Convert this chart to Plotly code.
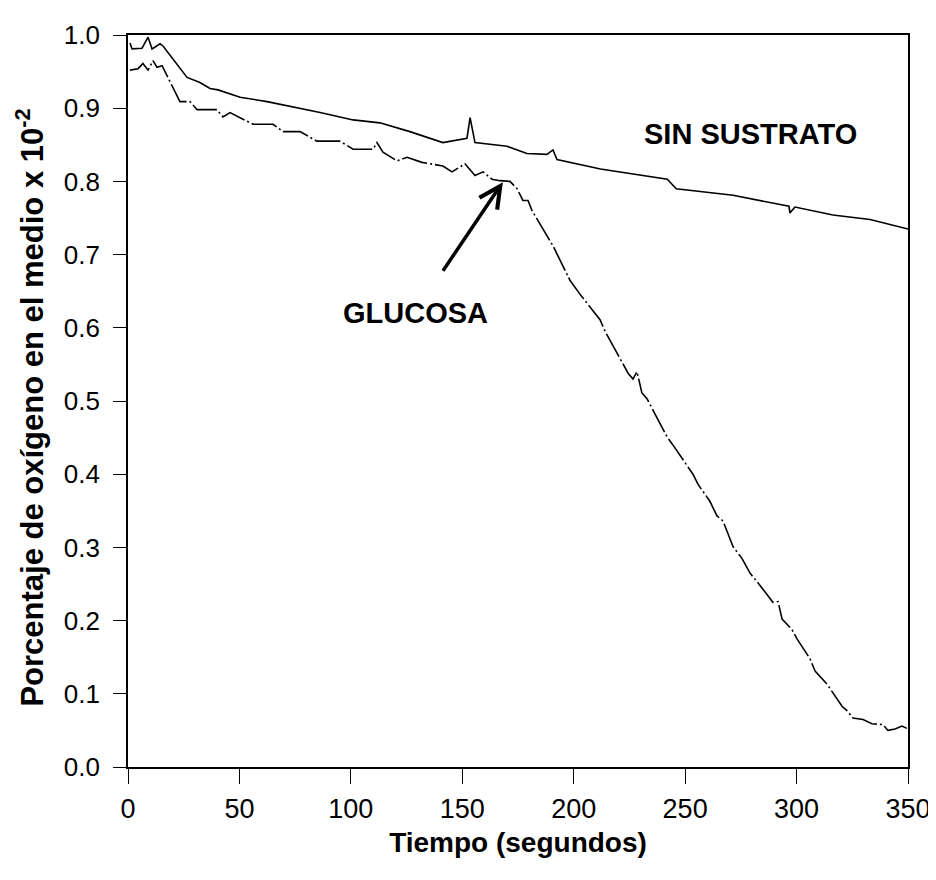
import plotly.graph_objects as go

# Sin sustrato (upper curve)
t_sin = [0.9, 1.8, 6.3, 9.0, 10.8, 14.4, 15.7, 23.3, 26.5, 32.3, 36.8, 40.4, 50.3, 62.4,
         74.0, 86.2, 101.0, 113.0, 126.5, 141.3, 152.1, 153.5, 155.7, 161.1, 170.1, 179.0,
         188.0, 190.7, 192.5, 212.0, 242.0, 246.0, 271.5, 296.6, 297.0, 299.3, 316.3, 333.0, 350.0]
o_sin = [0.989, 0.981, 0.982, 0.997, 0.981, 0.988, 0.985, 0.954, 0.942, 0.935, 0.927, 0.925, 0.915, 0.909,
         0.902, 0.894, 0.884, 0.880, 0.868, 0.853, 0.859, 0.887, 0.853, 0.851, 0.848, 0.838,
         0.837, 0.843, 0.830, 0.817, 0.803, 0.790, 0.781, 0.766, 0.757, 0.765, 0.754, 0.748, 0.735]

# Glucosa (lower curve)
t_glu = [0.9, 4.5, 6.7, 9.0, 11.2, 13.0, 15.3, 17.5, 22.4, 23.3, 27.8, 31.0, 39.9, 42.6, 45.8,
         56.1, 65.1, 69.6, 77.2, 84.8, 95.1, 101.0, 110.0, 111.7, 114.4, 120.7, 125.2, 131.9,
         141.3, 145.4, 151.2, 155.7, 159.3, 163.3, 166.9, 171.4, 174.6, 177.2, 179.5, 181.3,
         190.7, 198.3, 202.8, 211.8, 214.1, 222.1, 224.4, 226.6, 228.4, 230.6, 232.9, 241.9,
         244.5, 253.5, 255.8, 261.1, 264.3, 267.0, 271.5, 275.5, 279.1, 283.6, 288.1, 289.4,
         291.7, 293.5, 297.9, 300.2, 306.0, 308.3, 313.7, 316.3, 320.4, 322.6, 325.3, 329.8,
         333.8, 338.8, 341.0, 344.2, 347.3, 350.0]
o_glu = [0.952, 0.954, 0.961, 0.952, 0.965, 0.956, 0.958, 0.945, 0.915, 0.909, 0.909, 0.898, 0.898, 0.888, 0.894,
         0.878, 0.878, 0.868, 0.868, 0.855, 0.855, 0.844, 0.844, 0.853, 0.840, 0.828, 0.833, 0.826,
         0.821, 0.813, 0.824, 0.808, 0.813, 0.803, 0.801, 0.800, 0.790, 0.774, 0.774, 0.760,
         0.712, 0.665, 0.646, 0.611, 0.595, 0.552, 0.538, 0.530, 0.540, 0.511, 0.503, 0.451,
         0.440, 0.400, 0.386, 0.363, 0.343, 0.336, 0.301, 0.285, 0.265, 0.248, 0.231, 0.225,
         0.226, 0.202, 0.188, 0.175, 0.148, 0.131, 0.113, 0.101, 0.083, 0.077, 0.067, 0.065,
         0.059, 0.058, 0.050, 0.052, 0.056, 0.052]

x_ticks = [0, 50, 100, 150, 200, 250, 300, 350]
y_ticks = [0.0, 0.1, 0.2, 0.3, 0.4, 0.5, 0.6, 0.7, 0.8, 0.9, 1.0]
y_tick_labels = ["0.0", "0.1", "0.2", "0.3", "0.4", "0.5", "0.6", "0.7", "0.8", "0.9", "1.0"]

FONT = "Liberation Sans, Arial, sans-serif"

fig = go.Figure()
fig.add_trace(go.Scatter(x=t_sin, y=o_sin, mode="lines", name="Sin sustrato",
                         line=dict(color="black", width=1.6), showlegend=False))
fig.add_trace(go.Scatter(x=t_glu, y=o_glu, mode="lines", name="Glucosa",
                         line=dict(color="black", width=1.6, dash="26px,3px,2px,3px"),
                         showlegend=False))

fig.add_annotation(x=279.5, y=0.865, text="<b>SIN SUSTRATO</b>", showarrow=False,
                   font=dict(family=FONT, size=29, color="black"))
fig.add_annotation(x=128.8, y=0.620, text="<b>GLUCOSA</b>", showarrow=False,
                   font=dict(family=FONT, size=29, color="black"))
fig.add_annotation(x=168.2, y=0.799, ax=140.9, ay=0.676, axref="x", ayref="y",
                   xref="x", yref="y", text="", showarrow=True,
                   arrowhead=5, arrowsize=1.2, arrowwidth=3.5, arrowcolor="black")
# y-axis title placed as rotated text
fig.add_annotation(xref="paper", yref="paper", x=-0.1256, y=0.491,
                   text="<b>Porcentaje de oxígeno en el medio x 10<sup>-2</sup></b>",
                   textangle=-90, showarrow=False, xanchor="center", yanchor="middle",
                   font=dict(family=FONT, size=31, color="black"))

fig.update_layout(
    width=936, height=880,
    margin=dict(l=120, r=36, t=16, b=121),
    paper_bgcolor="white", plot_bgcolor="white",
    font=dict(family=FONT, size=26, color="black"),
    xaxis=dict(range=[0, 350], tickvals=x_ticks, ticks="outside", ticklen=15, tickwidth=1.3,
               tickcolor="black", showline=True, linecolor="black", linewidth=1.6, mirror=True,
               showgrid=False, zeroline=False, tickfont=dict(family=FONT, size=27),
               ticklabelstandoff=2,
               title=dict(text="<b>Tiempo (segundos)</b>", font=dict(family=FONT, size=28),
                          standoff=9)),
    yaxis=dict(range=[0, 1.0], tickvals=y_ticks, ticktext=y_tick_labels, ticks="outside",
               ticklen=13, tickwidth=1.3, tickcolor="black", showline=True, linecolor="black",
               linewidth=1.6, mirror=True, showgrid=False, zeroline=False,
               tickfont=dict(family=FONT, size=26), ticklabelstandoff=8),
)

fig.write_html("out.html")
